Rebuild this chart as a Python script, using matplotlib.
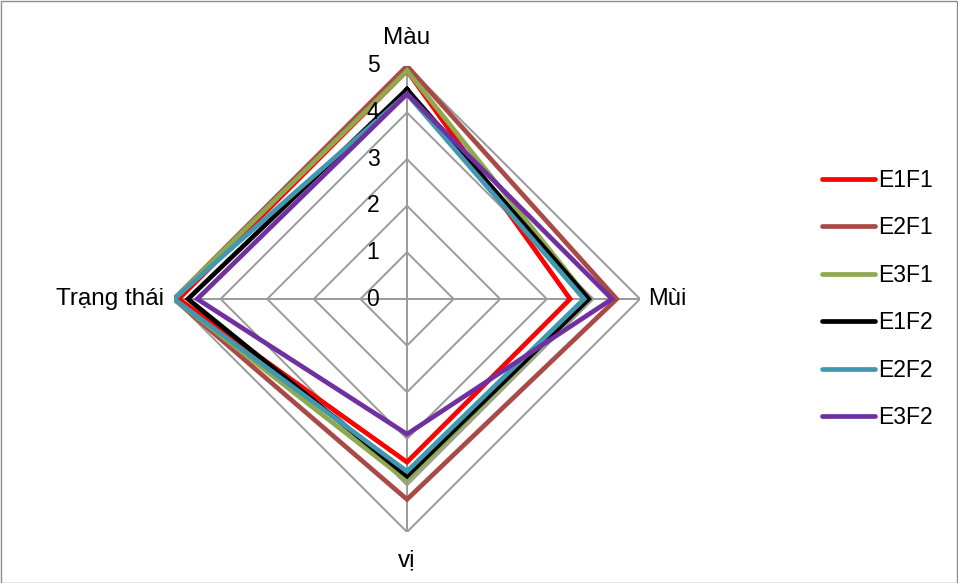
import matplotlib
matplotlib.use('Agg')
import matplotlib.pyplot as plt
import numpy as np
from matplotlib.patches import Rectangle

plt.rcParams['font.family'] = ['Liberation Sans', 'DejaVu Sans']

# Sensory scores per sample (Màu, Mùi, vị, Trạng thái)
criteria = ['Màu', 'Mùi', 'vị', 'Trạng thái']
samples = ['E1F1', 'E2F1', 'E3F1', 'E1F2', 'E2F2', 'E3F2']
e1f1 = [4.9, 3.5, 3.5, 4.9]
e2f1 = [5.0, 4.5, 4.3, 5.0]
e3f1 = [4.9, 3.9, 3.9, 5.0]
e1f2 = [4.5, 3.9, 3.8, 4.7]
e2f2 = [4.4, 3.8, 3.7, 5.0]
e3f2 = [4.4, 4.4, 2.9, 4.5]
scores = [e1f1, e2f1, e3f1, e1f2, e2f2, e3f2]
colors = ['#FF0000', '#A84A46', '#8EA94F', '#000000', '#4198AF', '#7030A0']
rings = [0, 1, 2, 3, 4, 5]

W, H, DPI = 958, 583, 100
FS = 16.5
fig = plt.figure(figsize=(W / DPI, H / DPI), dpi=DPI)
fig.patches.append(Rectangle((0.5 / W, 0.5 / H), 1 - 1.5 / W, 1 - 1.5 / H,
                             transform=fig.transFigure, fill=False,
                             edgecolor='#8c8c8c', linewidth=1.0))

cx, cy, R = 407, H - 299, 233
ax = fig.add_axes([(cx - R) / W, (cy - R) / H, 2 * R / W, 2 * R / H],
                  projection='polar')
ax.set_theta_offset(np.pi / 2)
ax.set_theta_direction(-1)
ax.set_ylim(0, rings[-1])
ax.grid(False)
ax.spines['polar'].set_visible(False)
ax.set_xticks([])
ax.set_yticks([])
ax.patch.set_alpha(0)

n = len(criteria)
angles = np.arange(n) * 2 * np.pi / n
closed = np.append(angles, angles[0])

# polygon grid and spokes
for r in rings[1:]:
    ax.plot(closed, [r] * (n + 1), color='#9a9a9a', lw=1.4, zorder=1)
for a in angles:
    ax.plot([a, a], [0, rings[-1]], color='#9a9a9a', lw=1.4, zorder=1)

for name, vals, c in zip(samples, scores, colors):
    ax.plot(closed, vals + vals[:1], color=c, lw=3.4, label=name, zorder=3,
            solid_joinstyle='miter')

# value labels along the top spoke
for r in rings:
    ax.annotate(str(r), xy=(0, r), xytext=(-24.5, 0), textcoords='offset points',
                ha='center', va='center', fontsize=FS, zorder=4)

# category labels
fig.text(407 / W, 1 - 38 / H, criteria[0], ha='center', va='center', fontsize=17.5)
fig.text(648 / W, 1 - 299 / H, criteria[1], ha='left', va='center', fontsize=17)
fig.text(407 / W, 1 - 560 / H, criteria[2], ha='center', va='center', fontsize=17.5)
fig.text(164 / W, 1 - 299 / H, criteria[3], ha='right', va='center', fontsize=17.5,
         fontstretch='expanded')

handles, labels = ax.get_legend_handles_labels()
leg = fig.legend(handles, labels, loc='center left',
                 bbox_to_anchor=(813 / W, 1 - 299 / H), frameon=False,
                 fontsize=FS, handlelength=2.3, handletextpad=0.15,
                 labelspacing=1.07, borderaxespad=0)
for line in leg.get_lines():
    line.set_linewidth(3.4)
    line.set_solid_capstyle('round')

fig.savefig('out.png', dpi=DPI)
